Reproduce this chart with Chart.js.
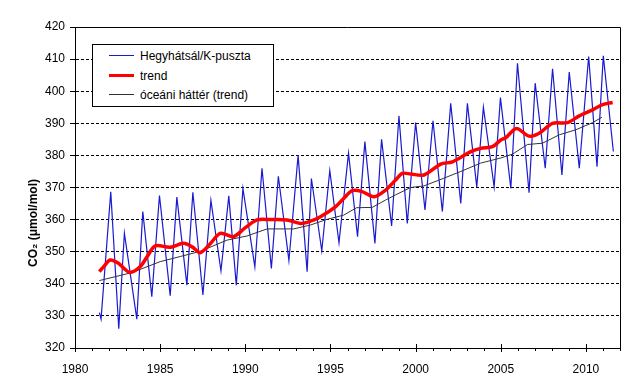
<!DOCTYPE html>
<html>
<head>
<meta charset="utf-8">
<script src="https://cdn.jsdelivr.net/npm/chart.js@4.4.1/dist/chart.umd.min.js"></script>
<style>
  html, body { margin: 0; padding: 0; background: #fff; }
  #wrap { position: relative; width: 640px; height: 392px; font-family: "Liberation Sans", Arial, sans-serif; }
  #legend { position: absolute; left: 92px; top: 44px; width: 180px; height: 61px; border: 1px solid #000; background: #fff; }
  .row { position: absolute; left: 0; height: 16px; font-size: 12px; line-height: 16px; color: #000; white-space: nowrap; }
  .sample { position: absolute; left: 16px; width: 25px; }
  .txt { position: absolute; left: 47px; top: 0; }
  #ytitle { position: absolute; left: 33px; top: 223px; transform: translate(-50%, -50%) rotate(-90deg); font-size: 12px; font-weight: bold; white-space: nowrap; color: #000; }
</style>
</head>
<body>
<div id="wrap">
  <canvas id="c" width="640" height="392"></canvas>
  <div id="legend">
    <div class="row" style="top:3px;"><div class="sample" style="top:7px;height:1px;background:#1a1ad0;"></div><span class="txt">Hegyhátsál/K-puszta</span></div>
    <div class="row" style="top:23px;"><div class="sample" style="top:6px;height:3px;background:#ff0000;"></div><span class="txt">trend</span></div>
    <div class="row" style="top:42px;"><div class="sample" style="top:7px;height:1px;background:#333;"></div><span class="txt">óceáni háttér (trend)</span></div>
  </div>
  <div id="ytitle">CO₂ (μmol/mol)</div>
</div>
<script>
// ---- data ----
const hegyYears = [1981.43,1981.53,1982.10,1982.57,1982.90,1983.63,1983.98,1984.51,1984.96,1985.59,1985.98,1986.57,1986.92,1987.51,1987.98,1988.57,1989.03,1989.47,1989.86,1990.56,1990.98,1991.53,1991.94,1992.56,1993.10,1993.63,1993.88,1994.49,1994.96,1995.50,1996.06,1996.59,1997.02,1997.61,1998.00,1998.59,1999.02,1999.51,2000.00,2000.55,2001.02,2001.57,2002.06,2002.65,2003.04,2003.59,2003.98,2004.61,2004.98,2005.59,2005.98,2006.66,2007.02,2007.61,2008.04,2008.59,2009.02,2009.61,2010.16,2010.65,2011.02,2011.61];
const hegyValues = [331,329,368.7,326,355.8,329,362.5,336,367.5,336.3,367,339.6,368.5,336.5,366,344,367.4,339.6,369.7,345.3,376,344.8,373.5,347.2,380,343.8,372.8,350.3,375.3,352.8,380.7,354.7,384.3,352.6,385,358,392.3,358.8,390.2,363,390.8,362.5,396.2,365,396.2,370.2,395,370.2,398,369.7,408.7,368.4,402.5,376,407,373.9,406,376,410.8,376.5,411,381.2];

const trendYears = [1981.43,1981.71,1982.06,1982.55,1982.94,1983.24,1983.82,1984.24,1984.71,1985.59,1986.37,1986.88,1987.35,1987.94,1988.53,1989.31,1990.00,1990.69,1991.47,1992.45,1993.24,1993.82,1994.41,1995.29,1995.76,1996.28,1996.86,1997.55,1998.24,1998.82,1999.22,1999.71,2000.49,2001.47,2002.16,2003.24,2003.82,2004.51,2005.00,2005.29,2005.92,2006.66,2007.25,2008.04,2008.92,2009.61,2010.39,2010.98,2011.57];
const trendValues = [343.8,345.5,347.4,346.4,344.5,343.5,345.3,348.5,351.8,351.4,352.6,351.5,349.7,352.5,355.7,354.7,357.5,359.9,360,359.9,358.8,359.5,360.9,364,366.5,369,368.7,367.1,369.2,372.3,374.4,374.2,373.9,377.3,378,381.2,382.2,382.7,384.8,385.5,388.4,386,386.9,390,390.2,392.3,394.2,395.8,396.5];

const oceanYears = [1981.43,1983.34,1985.00,1986.18,1987.35,1988.92,1990.10,1991.28,1992.84,1993.82,1994.81,1995.78,1996.53,1997.45,1998.24,1998.82,1999.71,2000.49,2001.66,2002.65,2003.82,2005.00,2005.69,2006.57,2007.45,2008.43,2009.41,2010.39,2010.94];
const oceanValues = [341,343.5,346.9,348.5,350.1,353.6,354.9,357.1,357.1,358.3,360.1,361.4,363.7,363.8,366.1,367.7,370,370.5,372.9,375,377.6,379.2,380.4,383.4,383.8,386.4,388,390.2,391.9];

const seriesNames = ["Hegyhátsál/K-puszta", "trend", "óceáni háttér (trend)"];
const xTickLabels = [1980, 1985, 1990, 1995, 2000, 2005, 2010];
const yTickLabels = [320, 330, 340, 350, 360, 370, 380, 390, 400, 410, 420];

const toPoints = (xs, ys) => xs.map((x, i) => ({ x: x, y: ys[i] }));

const frame = {
  id: 'frame',
  afterDraw(chart) {
    const { ctx, chartArea: a, scales } = chart;
    ctx.save();
    ctx.strokeStyle = '#000';
    ctx.lineWidth = 1;
    ctx.beginPath();
    ctx.moveTo(a.left, a.top + 0.5);
    ctx.lineTo(a.right + 0.5, a.top + 0.5);
    ctx.lineTo(a.right + 0.5, a.bottom);
    ctx.stroke();
    // minor / major ticks on x axis
    const xs = scales.x;
    ctx.beginPath();
    for (let yr = 1980; yr <= 2012; yr++) {
      const px = Math.round(xs.getPixelForValue(yr)) + 0.5;
      if (yr % 5 === 0) {
        ctx.moveTo(px, a.bottom - 4);
        ctx.lineTo(px, a.bottom + 4);
      } else {
        ctx.moveTo(px, a.bottom);
        ctx.lineTo(px, a.bottom + 3);
      }
    }
    ctx.stroke();
    ctx.restore();
  }
};

Chart.defaults.font.family = '"Liberation Sans", Arial, sans-serif';
Chart.defaults.font.size = 12;
Chart.defaults.color = '#000';

new Chart(document.getElementById('c'), {
  type: 'line',
  data: {
    datasets: [
      { label: seriesNames[0], data: toPoints(hegyYears, hegyValues), borderColor: '#1a1ad0', borderWidth: 1.2, pointRadius: 0, tension: 0, order: 3 },
      { label: seriesNames[2], data: toPoints(oceanYears, oceanValues), borderColor: '#333333', borderWidth: 1, pointRadius: 0, tension: 0, order: 2 },
      { label: seriesNames[1], data: toPoints(trendYears, trendValues), borderColor: '#ff0000', borderWidth: 3.5, pointRadius: 0, tension: 0.3, order: 1 }
    ]
  },
  options: {
    responsive: false,
    animation: false,
    devicePixelRatio: 1,
    layout: { padding: { left: 0, top: 27, right: 20, bottom: 0 } },
    plugins: { legend: { display: false }, tooltip: { enabled: false } },
    scales: {
      x: {
        type: 'linear',
        min: 1980,
        max: 2012,
        afterFit: (s) => { s.height = 44; },
        afterBuildTicks: (s) => { s.ticks = xTickLabels.map(v => ({ value: v })); },
        ticks: { stepSize: 5, padding: 6, maxRotation: 0, callback: (v) => String(v) },
        grid: { display: false },
        border: { display: true, color: '#000', width: 1 }
      },
      y: {
        min: 320,
        max: 420,
        afterFit: (s) => { s.width = 75; },
        afterBuildTicks: (s) => { s.ticks = yTickLabels.map(v => ({ value: v })); },
        ticks: { padding: 5 },
        grid: {
          color: (c) => (c.tick && (c.tick.value === 320 || c.tick.value === 420)) ? 'rgba(0,0,0,0)' : '#000',
          tickColor: '#000',
          tickLength: 5,
          lineWidth: 1
        },
        border: { display: true, color: '#000', width: 1, dash: [3, 2] }
      }
    }
  },
  plugins: [frame]
});
</script>
</body>
</html>
